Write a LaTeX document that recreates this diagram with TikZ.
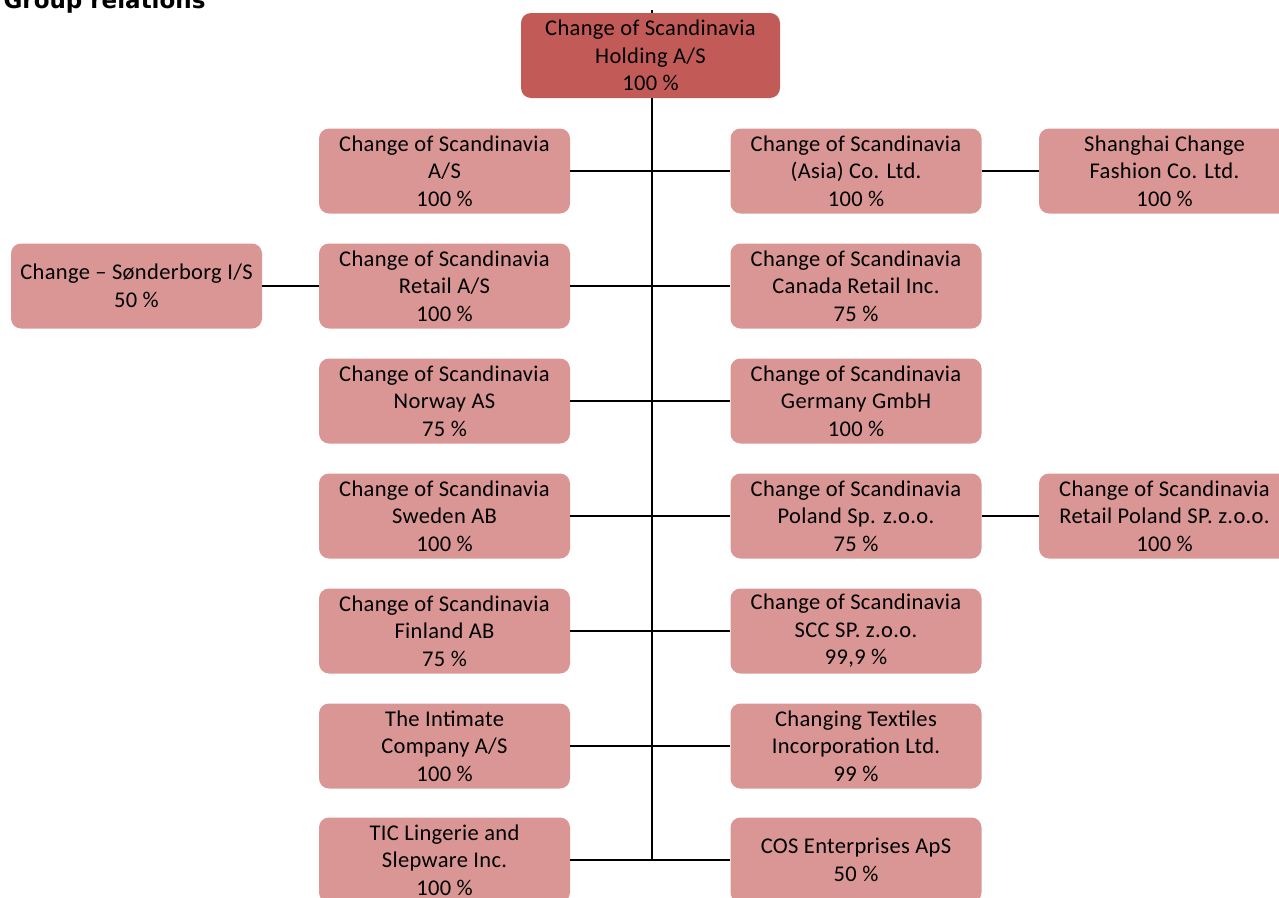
\documentclass[tikz,border=0pt]{standalone}
\usepackage{fontspec}
\setmainfont{Carlito}[LetterSpace=1.5]
\newfontfamily\titlefont{DejaVu Sans}
\definecolor{topfill}{RGB}{194,91,88}
\definecolor{boxfill}{RGB}{217,150,148}
\begin{document}
\begin{tikzpicture}[x=1pt,y=-1pt,
  company/.style={fill=boxfill,draw=none,rounded corners=10pt,minimum width=251pt,minimum height=85pt,
    align=center,inner sep=0pt,font=\fontsize{22.5}{27.5}\selectfont},
  holding/.style={company,fill=topfill,minimum width=259pt},
  link/.style={draw=black,line width=1.8pt}]
\useasboundingbox (0,0) rectangle (1279,897);
\node[anchor=base west,font=\titlefont\bfseries\fontsize{23}{27}\selectfont] (title) at (0,8.5) {Group relations};
\node[holding] (top) at (650.5,55.5) {Change of Scandinavia\\Holding A/S\\100 \%};
% left column
\node[company] (L1) at (444.5,171) {Change of Scandinavia\\A/S\\100 \%};
\node[company] (L2) at (444.5,286) {Change of Scandinavia\\Retail A/S\\100 \%};
\node[company] (L3) at (444.5,401) {Change of Scandinavia\\Norway AS\\75 \%};
\node[company] (L4) at (444.5,516) {Change of Scandinavia\\Sweden AB\\100 \%};
\node[company] (L5) at (444.5,631) {Change of Scandinavia\\Finland AB\\75 \%};
\node[company] (L6) at (444.5,746) {The Intimate\\Company A/S\\100 \%};
\node[company] (L7) at (444.5,860) {TIC Lingerie and\\Slepware Inc.\\100 \%};
% right column
\node[company] (R1) at (856,171) {Change of Scandinavia\\(Asia) Co. Ltd.\\100 \%};
\node[company] (R2) at (856,286) {Change of Scandinavia\\Canada Retail Inc.\\75 \%};
\node[company] (R3) at (856,401) {Change of Scandinavia\\Germany GmbH\\100 \%};
\node[company] (R4) at (856,516) {Change of Scandinavia\\Poland Sp. z.o.o.\\75 \%};
\node[company] (R5) at (856,631) {Change of Scandinavia\\SCC SP. z.o.o.\\99,9 \%};
\node[company] (R6) at (856,746) {Changing Textiles\\Incorporation Ltd.\\99 \%};
\node[company] (R7) at (856,860) {COS Enterprises ApS\\50 \%};
% outer
\node[company] (FL) at (136.5,286) {Change -- Sønderborg I/S\\50 \%};
\node[company] (FR1) at (1164.5,171) {Shanghai Change\\Fashion Co. Ltd.\\100 \%};
\node[company] (FR4) at (1164.5,516) {Change of Scandinavia\\Retail Poland SP. z.o.o.\\100 \%};
% trunk
\coordinate (tick) at (652,10);
\coordinate (trunkend) at (652,860);
\draw[link] (tick) -- (tick|-top.north);
\draw[link] (top.south-|tick) -- (trunkend);
\foreach \i in {1,...,7} {\draw[link] (L\i.east) -- (R\i.west);}
\draw[link] (FL.east) -- (L2.west);
\draw[link] (R1.east) -- (FR1.west);
\draw[link] (R4.east) -- (FR4.west);
\end{tikzpicture}
\end{document}
